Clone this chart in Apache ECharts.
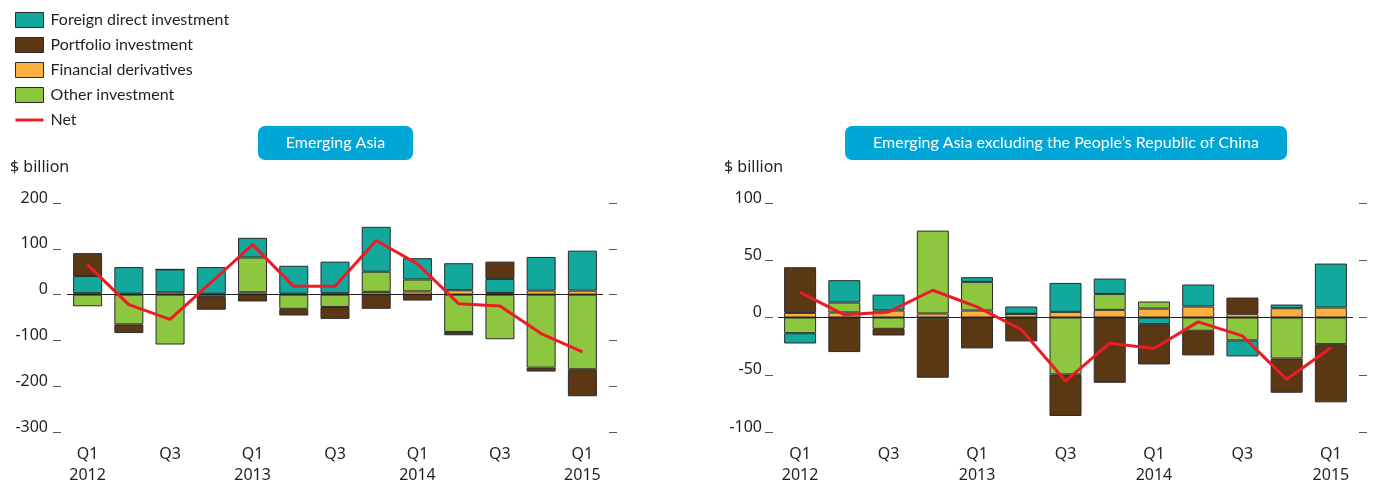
<!DOCTYPE html>
<html>
<head>
<meta charset="utf-8">
<script src="https://cdn.jsdelivr.net/npm/echarts@6/dist/echarts.min.js"></script>
<style>html,body{margin:0;padding:0;background:#fff}#c{width:1374px;height:481px}</style>
</head>
<body>
<div id="c"></div>
<script>
var categories = ['Q1\n2012','Q2','Q3','Q4','Q1\n2013','Q2','Q3','Q4','Q1\n2014','Q2','Q3','Q4','Q1\n2015'];

// Emerging Asia
var fdiA    = [37.5, 58, 50, 58, 43, 61, 69, 98, 46.5, 59, 30.6, 73.5, 87.3];
var portA   = [50, -19, 0, -28, -15, -14.6, -26, -31, -13, -7.3, 37.8, -8.6, -59];
var derivA  = [3, 2, 5, 2, 5, 2, 3, 6, 7, 9.5, 3.6, 8.7, 8.7];
var otherA  = [-25.5, -65, -109, -5, 76, -31, -27, 44, 26, -81.5, -97.5, -159.4, -163];
var netA    = [65, -22, -54, 27, 109, 18, 18, 118, 67, -20, -25, -85, -125];

// Emerging Asia excluding PRC
var fdiB    = [-9, 19.5, 13.9, -1, 4.1, 6.4, 25.3, 13.4, -5.8, 19.2, -14, 3.2, 38.4];
var portB   = [39.9, -30.2, -5.8, -51.6, -27, -20.9, -36.3, -57, -35.2, -21.5, 14.2, -29.9, -50.8];
var derivB  = [4, 4.4, 6.1, 3.5, 6.1, 3.2, 4.9, 6.7, 7.8, 9.6, 3.2, 8.1, 8.7];
var otherB  = [-13.7, 8.7, -9.9, 72.4, 25, 0, -49.7, 13.9, 6.2, -11.6, -20, -35.8, -23.3];
var netB    = [22, 2.3, 4.9, 23.8, 9.3, -10.5, -55.5, -22.4, -27, -3.8, -16, -54, -26.5];

var titles = ['Emerging Asia', 'Emerging Asia excluding the People\u2019s Republic of China'];
var names = ['Foreign direct investment', 'Portfolio investment', 'Financial derivatives', 'Other investment', 'Net'];

var C = {fdi:'#12a89b', port:'#5b3714', deriv:'#fbb040', other:'#8dc63f', net:'#ed1c24'};
var FONT = 'Lato, "Noto Sans", sans-serif';
var AFONT = '"Noto Sans", Lato, sans-serif';

var chart = echarts.init(document.getElementById('c'));

function barSeries(name, data, color, idx, bw) {
  return {
    name: name, type: 'bar', stack: 's' + idx, data: data,
    xAxisIndex: idx, yAxisIndex: idx * 2, barWidth: bw,
    itemStyle: {color: color, borderColor: '#2b2b2b', borderWidth: 1},
    emphasis: {disabled: true}
  };
}
function netSeries(data, idx) {
  return {
    name: 'Net', type: 'line', data: data, xAxisIndex: idx, yAxisIndex: idx * 2,
    symbol: 'none', z: 5,
    lineStyle: {color: C.net, width: 3}, itemStyle: {color: C.net},
    markLine: {silent: true, symbol: 'none', label: {show: false},
      lineStyle: {color: '#222', width: 1, type: 'solid'}, data: [{yAxis: 0}]}
  };
}
function xAx(idx) {
  return {
    type: 'category', gridIndex: idx, data: categories,
    axisLine: {show: false}, axisTick: {show: false},
    axisLabel: {interval: 1, margin: 12, color: '#231f20', fontSize: 16, fontFamily: AFONT, lineHeight: 21}
  };
}
function yAxPair(idx, min, max, interval, margin, offL, offR) {
  return [{
    type: 'value', gridIndex: idx, min: min, max: max, interval: interval, position: 'left', offset: offL,
    splitLine: {show: false}, axisLine: {show: false},
    axisTick: {show: true, length: 8, lineStyle: {color: '#555', width: 1}},
    axisLabel: {margin: margin, color: '#231f20', fontSize: 16, fontFamily: AFONT, verticalAlign: 'bottom', lineHeight: 10}
  }, {
    type: 'value', gridIndex: idx, min: min, max: max, interval: interval, position: 'right', offset: offR,
    splitLine: {show: false}, axisLine: {show: false},
    axisTick: {show: true, length: 8, lineStyle: {color: '#555', width: 1}},
    axisLabel: {show: false}
  }];
}

var graphics = [];
graphics.push({type: 'rect', shape: {x: 258, y: 126, width: 155, height: 34, r: 7}, style: {fill: '#00a7d6'}});
graphics.push({type: 'text', style: {x: 335.5, y: 143, text: titles[0], fill: '#fff', font: '16px ' + FONT, align: 'center', verticalAlign: 'middle'}});
graphics.push({type: 'rect', shape: {x: 845, y: 126, width: 442, height: 34, r: 7}, style: {fill: '#00a7d6'}});
graphics.push({type: 'text', style: {x: 1066, y: 143, text: titles[1], fill: '#fff', font: '16px ' + FONT, align: 'center', verticalAlign: 'middle'}});
graphics.push({type: 'text', style: {x: 10, y: 167, text: '$ billion', fill: '#231f20', font: '16px ' + AFONT, verticalAlign: 'middle'}});
graphics.push({type: 'text', style: {x: 724, y: 167, text: '$ billion', fill: '#231f20', font: '16px ' + AFONT, verticalAlign: 'middle'}});

var option = {
  animation: false,
  textStyle: {fontFamily: FONT},
  legend: {
    orient: 'vertical', left: 10, top: 7, itemWidth: 28, itemHeight: 15, itemGap: 9,
    textStyle: {fontSize: 16, color: '#231f20', fontFamily: FONT, padding: [0, 0, 0, 2]},
    selectedMode: false,
    data: [
      {name: names[0], icon: 'rect', itemStyle: {borderColor: '#2b2b2b', borderWidth: 1}},
      {name: names[1], icon: 'rect', itemStyle: {borderColor: '#2b2b2b', borderWidth: 1}},
      {name: names[2], icon: 'rect', itemStyle: {borderColor: '#2b2b2b', borderWidth: 1}},
      {name: names[3], icon: 'rect', itemStyle: {borderColor: '#2b2b2b', borderWidth: 1}},
      {name: names[4], icon: 'path://M0,0h28v3h-28z', itemStyle: {color: C.net}}
    ]
  },
  grid: [
    {left: 67, top: 203, width: 536, height: 229, outerBoundsMode: 'none', containLabel: false},
    {left: 778, top: 203, width: 575, height: 229, outerBoundsMode: 'none', containLabel: false}
  ],
  xAxis: [xAx(0), xAx(1)],
  yAxis: [].concat(yAxPair(0, -300, 200, 100, 13, 6, 6), yAxPair(1, -100, 100, 50, 11, 5, 6)),
  graphic: graphics,
  series: [
    barSeries(names[2], derivA, C.deriv, 0, 29),
    barSeries(names[3], otherA, C.other, 0, 29),
    barSeries(names[0], fdiA, C.fdi, 0, 29),
    barSeries(names[1], portA, C.port, 0, 29),
    netSeries(netA, 0),
    barSeries(names[2], derivB, C.deriv, 1, 32),
    barSeries(names[3], otherB, C.other, 1, 32),
    barSeries(names[0], fdiB, C.fdi, 1, 32),
    barSeries(names[1], portB, C.port, 1, 32),
    netSeries(netB, 1)
  ]
};
chart.setOption(option);
</script>
</body>
</html>
